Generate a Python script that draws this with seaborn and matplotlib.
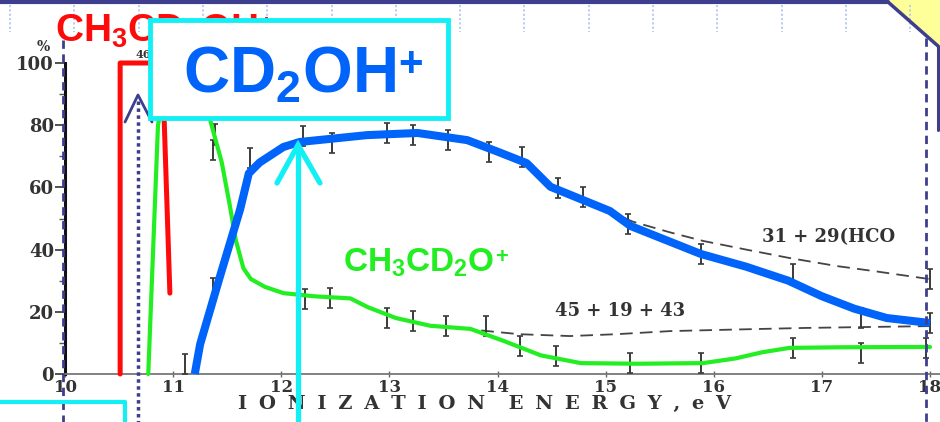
import matplotlib
matplotlib.use("Agg")
import numpy as np
import pandas as pd
import seaborn as sns
import matplotlib.pyplot as plt
from matplotlib.lines import Line2D
from matplotlib.patches import Rectangle, Polygon

# ---------------- data ----------------
parent_x = [10.51, 10.51, 10.90, 10.97]          # CH3CD2OH+
parent_y = [0, 100, 100, 26]

ethoxy_x = [10.77, 10.86, 10.97, 11.15, 11.34, 11.45, 11.52, 11.58, 11.65, 11.72,
            11.85, 12.02, 12.30, 12.64, 12.80, 13.06, 13.38, 13.75, 14.06, 14.40,
            14.77, 15.30, 15.90, 16.20, 16.45, 16.70, 17.20, 18.00]   # CH3CD2O+
ethoxy_y = [0, 80, 100, 100, 82, 68, 55, 43, 34, 30.5,
            28, 26, 25, 24.3, 21.5, 18, 15.5, 14.5, 10.6, 6,
            3.5, 3.3, 3.5, 5, 7, 8.4, 8.6, 8.7]

cd2oh_x = [11.20, 11.25, 11.43, 11.62, 11.70, 11.80, 12.02, 12.17, 12.79, 13.26,
           13.72, 14.00, 14.27, 14.49, 15.04, 15.23, 15.88, 16.30, 16.69, 17.00,
           17.30, 17.60, 18.00]                     # CD2OH+
cd2oh_y = [0, 9.6, 31, 53, 64.5, 68, 73, 74.6, 76.8, 77.5,
           75.2, 71.5, 67.8, 60.2, 52.4, 47.6, 38.6, 34.5, 30, 25,
           21, 18, 16.4]

hco_x = [14.50, 14.80, 15.25, 15.60, 15.90, 16.30, 16.70, 17.14, 17.50, 18.00]   # 31 + 29 (HCO)
hco_y = [60.2, 56, 49, 45.5, 42.8, 40, 37.3, 34.7, 33, 30.5]

sum_x = [13.85, 14.20, 14.67, 15.10, 15.60, 16.20, 16.83, 17.40, 18.00]          # 45 + 19 + 43
sum_y = [14.0, 12.8, 12.2, 12.8, 13.8, 14.3, 14.8, 15.1, 15.4]

err_x = [11.39, 11.37, 11.71, 12.20, 12.47, 12.98, 13.22, 13.54, 13.92, 14.23, 14.56,
         14.79, 15.21, 15.88, 16.73, 17.36, 18.00, 18.00,
         11.11, 11.37, 12.22, 12.45, 12.98, 13.22, 13.52, 13.89, 14.21, 14.54,
         15.23, 15.88, 16.73, 17.36, 17.96]
err_y = [77, 72, 69.5, 76.5, 74.3, 77.5, 76.8, 75.2, 71.4, 69.8, 59.8,
         56.9, 48.2, 38.6, 32.2, 18, 16.4, 30.5,
         3.2, 27.7, 24.1, 24.4, 18, 17, 15.4, 15.4, 9, 5.8,
         3.5, 3.5, 8.4, 6.8, 8.4]

x_ticks = [10, 11, 12, 13, 14, 15, 16, 17, 18]
x_tick_labels = ["10", "11", "12", "13", "14", "15", "16", "17", "18"]
y_ticks = [0, 20, 40, 60, 80, 100]
y_tick_labels = ["0", "20", "40", "60", "80", "100"]
y_minor = [10, 30, 50, 70, 90]

# ---------------- style ----------------
sns.set_theme(style="white")
plt.rcParams["font.family"] = ["DejaVu Serif"]
plt.rcParams["mathtext.fontset"] = "custom"
plt.rcParams["mathtext.rm"] = "Liberation Sans:bold"
plt.rcParams["mathtext.it"] = "Liberation Sans:bold"
plt.rcParams["mathtext.bf"] = "Liberation Sans:bold"
plt.rcParams["mathtext.default"] = "rm"

RED = "#FF0A0A"
GREEN = "#22EE22"
BLUE = "#0064FA"
CYAN = "#12F0F5"
NAVY = "#3E3E8E"
INK = "#333333"

W, H = 940, 422
fig = plt.figure(figsize=(9.4, 4.22), dpi=100)
fig.patch.set_facecolor("white")
ax = fig.add_axes([65 / W, 48 / H, 865 / W, 311 / H])
ax.set_facecolor("white")


def fx(x):
    return x / W


def fy(y):
    return 1 - y / H


def fline(xs, ys, **kw):
    ln = Line2D([fx(v) for v in xs], [fy(v) for v in ys], transform=fig.transFigure, **kw)
    fig.add_artist(ln)
    return ln


# ---------------- data lines ----------------
sns.lineplot(x=parent_x, y=parent_y, sort=False, estimator=None, color=RED, lw=3.6, ax=ax,
             clip_on=False, zorder=4)
sns.lineplot(x=ethoxy_x, y=ethoxy_y, sort=False, estimator=None, color=GREEN, lw=3.0, ax=ax,
             clip_on=False, zorder=4)
sns.lineplot(x=hco_x, y=hco_y, sort=False, estimator=None, color="#444444", lw=1.3, ax=ax,
             linestyle=(0, (7, 4)), zorder=3)
sns.lineplot(x=sum_x, y=sum_y, sort=False, estimator=None, color="#444444", lw=1.3, ax=ax,
             linestyle=(0, (7, 4)), zorder=3)
ax.errorbar(err_x, err_y, yerr=3.3, fmt="none", ecolor="#3a3a3a", elinewidth=1.4,
            capsize=2.5, capthick=1.2, zorder=3, clip_on=False)
sns.lineplot(x=cd2oh_x, y=cd2oh_y, sort=False, estimator=None, color=BLUE, lw=5.8, ax=ax,
             clip_on=False, zorder=5, solid_capstyle="butt")

ax.set_xlim(10, 18)
ax.set_ylim(0, 100)
ax.set_xticks(x_ticks)
ax.set_xticklabels(x_tick_labels)
ax.set_yticks(y_ticks)
ax.set_yticklabels(y_tick_labels)
ax.set_yticks(y_minor, minor=True)
ax.tick_params(axis="x", direction="inout", length=5, width=1.0, color="#666666",
               labelsize=12, pad=1, labelcolor=INK, bottom=True)
ax.tick_params(axis="y", which="major", direction="out", length=7, width=1.3, color="#444444",
               labelsize=13, pad=1, labelcolor=INK, left=True)
ax.tick_params(axis="y", which="minor", direction="out", length=4, width=1.0, color="#555555",
               left=True)
for lab in ax.get_xticklabels() + ax.get_yticklabels():
    lab.set_fontweight("bold")

for s in ["top", "right"]:
    ax.spines[s].set_visible(False)
ax.spines["left"].set_color("#111111")
ax.spines["left"].set_linewidth(2.2)
ax.spines["bottom"].set_color("#777777")
ax.spines["bottom"].set_linewidth(1.3)
ax.grid(False)

gap = "\u2002\u200a"
label = gap.join(list("IONIZATION")) + gap + gap + gap.join(list("ENERGY,")) + gap + "e" + gap + "V"
ax.set_xlabel(label, fontsize=14, fontweight="bold", color=INK)
ax.xaxis.set_label_coords((485 - 65) / 865, (374 - 395) / 311)
ax.xaxis.label.set_va("top")
ax.set_ylabel("")

ax.text(16.45, 44, "31 + 29(HCO", fontsize=13, fontweight="bold", color=INK, va="center", ha="left")
ax.text(14.53, 20.3, "45 + 19 + 43", fontsize=13, fontweight="bold", color=INK, va="center", ha="left")

# ---------------- slide decorations ----------------
fline([930, 940], [374, 374], color="#777777", lw=1.3)
for i in range(15):
    xx = 10 + 64.3 * i
    fline([xx, xx], [5, 32], color="#B4C8F2", lw=1.3, linestyle=(0, (1.2, 1.2)))
fline([0, 888], [1.5, 1.5], color=NAVY, lw=3)
fig.add_artist(Polygon([(fx(888), fy(0)), (fx(940), fy(0)), (fx(940), fy(48))], closed=True,
                       transform=fig.transFigure, facecolor="#FFFF99", edgecolor="none"))
fline([888, 938], [2, 46], color=NAVY, lw=2.5)
fline([938, 938], [46, 130], color=NAVY, lw=2.2, solid_capstyle="round")

fline([63, 63], [40, 422], color=NAVY, lw=2.0, linestyle=(0, (3, 2)))
fline([926, 926], [38, 422], color=NAVY, lw=2.0, linestyle=(0, (3, 2)))
fline([138, 138], [101, 422], color=NAVY, lw=2.5, linestyle=(0, (1, 1)))
fline([125, 138, 152], [122, 95, 122], color=NAVY, lw=2.0)

fline([0, 125, 125], [402, 402, 422], color=CYAN, lw=3.0)
fline([298, 298], [147, 422], color=CYAN, lw=3.8)
fline([277, 298, 320], [183, 145, 183], color=CYAN, lw=3.8, solid_capstyle="round",
      solid_joinstyle="miter")

fig.text(fx(43), fy(47), "%", fontsize=10, fontweight="bold", color=INK, ha="center", va="center")
fig.text(fx(143), fy(54), "46", fontsize=8, fontweight="bold", color=INK, ha="center", va="center")

box = Rectangle((fx(150), fy(118)), 298 / W, 98 / H, transform=fig.transFigure,
                facecolor="white", edgecolor=CYAN, lw=3.5, zorder=10)
fig.add_artist(box)


def ion_label(x_px, base_px, body, size, color, zorder):
    """Body text with a small raised '+' placed right after it (pixel coords, from top)."""
    t = fig.text(fx(x_px), fy(base_px), body, fontsize=size, color=color,
                 family="Liberation Sans", fontweight="bold", ha="left", va="baseline",
                 zorder=zorder)
    fig.canvas.draw()
    bb = t.get_window_extent(fig.canvas.get_renderer())
    size_px = size * 100 / 72
    fig.text((bb.x1 + 0.03 * size_px) / W, fy(base_px - 0.27 * size_px), "+",
             fontsize=size * 0.66, color=color, family="Liberation Sans",
             fontweight="bold", ha="left", va="baseline", zorder=zorder)


ion_label(55, 42, "CH$_3$CD$_2$OH", 28, RED, 5)
ion_label(343, 272, "CH$_3$CD$_2$O", 24, GREEN, 6)
ion_label(183, 93, "CD$_2$OH", 46, BLUE, 11)

fig.savefig("out.png", dpi=100)
